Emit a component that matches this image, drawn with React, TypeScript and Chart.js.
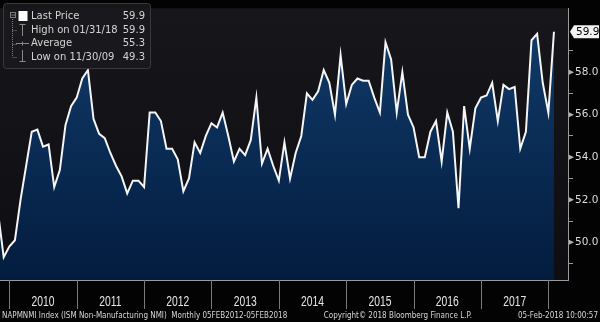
import React, { useEffect, useRef } from "react";
import { Chart, registerables } from "chart.js";
Chart.register(...registerables);

// ---- data ----
const firstYear = 2009;
const firstMonth = 10; // October 2009
const values: number[] = [
  51.4, 49.3, 49.8,
  50.1, 52.0, 53.6, 55.2, 55.3, 54.5, 54.6, 52.6, 53.4, 55.5, 56.4, 56.8,
  57.7, 58.1, 55.8, 55.1, 54.9, 54.2, 53.6, 53.1, 52.3, 52.9, 52.9, 52.6,
  56.1, 56.1, 55.7, 54.4, 54.4, 53.9, 52.4, 53.0, 54.7, 54.2, 55.0, 55.6,
  55.4, 56.1, 55.0, 53.8, 54.4, 54.1, 54.8, 56.8, 53.7, 54.4, 53.6, 52.9,
  54.7, 53.0, 54.2, 55.0, 57.0, 56.7, 57.1, 58.1, 57.5, 56.0, 58.8, 56.5,
  57.4, 57.7, 57.6, 57.6, 56.8, 56.1, 59.4, 58.6, 56.1, 58.0, 56.0, 55.4,
  54.0, 54.0, 55.2, 55.7, 53.8, 56.1, 55.2, 51.6, 56.4, 54.4, 56.3, 56.8,
  56.9, 57.5, 55.7, 57.4, 57.2, 57.3, 54.4, 55.2, 59.5, 59.8, 57.5, 56.1,
  59.9,
];
const monthLabels: string[] = values.map((_, i) => {
  const m = firstMonth - 1 + i;
  const y = firstYear + Math.floor(m / 12);
  return `${y}-${String((m % 12) + 1).padStart(2, "0")}`;
});
const yearLabels = ["2010", "2011", "2012", "2013", "2014", "2015", "2016", "2017"];
const yearBoundaries = [2010, 2011, 2012, 2013, 2014, 2015, 2016, 2017, 2018];
const yTicks = [49, 50, 51, 52, 53, 54, 55, 56, 57, 58, 59];
const legendLabels = ["Last Price", "High on 01/31/18", "Average", "Low on 11/30/09"];
const legendValues = ["59.9", "59.9", "55.3", "49.3"];
const lastValueLabel = "59.9";
const footerLeft = "NAPMNMI Index (ISM Non-Manufacturing NMI)  Monthly 05FEB2012-05FEB2018";
const footerMid = "Copyright\u00A9 2018 Bloomberg Finance L.P.";
const footerRight = "05-Feb-2018 10:00:57";

// month-end position: months since 1 Jan 2010
const monthPos = (label: string) => {
  const [y, m] = label.split("-").map(Number);
  return (y - 2010) * 12 + m;
};

function drawScaled(
  ctx: CanvasRenderingContext2D,
  text: string,
  x: number,
  y: number,
  font: string,
  color: string,
  sx: number,
  align: "left" | "right" | "center"
) {
  ctx.save();
  ctx.font = font;
  ctx.fillStyle = color;
  ctx.textBaseline = "middle";
  ctx.textAlign = "left";
  const w = ctx.measureText(text).width * sx;
  const left = align === "left" ? x : align === "right" ? x - w : x - w / 2;
  ctx.translate(left, y);
  ctx.scale(sx, 1);
  ctx.fillText(text, 0, 0);
  ctx.restore();
}

const decorPlugin = {
  id: "decor",
  beforeDraw(chart: any) {
    const { ctx, chartArea: ca, width, height } = chart;
    ctx.save();
    ctx.fillStyle = "#030304";
    ctx.fillRect(0, 0, width, height);
    const g = ctx.createLinearGradient(0, ca.top, 0, ca.bottom);
    g.addColorStop(0, "#17171b");
    g.addColorStop(1, "#0e0e12");
    ctx.fillStyle = g;
    ctx.fillRect(ca.left, ca.top, ca.right - ca.left, ca.bottom - ca.top);
    ctx.restore();
  },
  afterDraw(chart: any) {
    const { ctx, chartArea: ca } = chart;
    const xs = chart.scales.x;
    const ys = chart.scales.y;
    ctx.save();
    // bottom axis line
    ctx.strokeStyle = "#9a9a9a";
    ctx.lineWidth = 1;
    ctx.beginPath();
    ctx.moveTo(ca.left, Math.round(ca.bottom) + 0.5);
    ctx.lineTo(ca.right, Math.round(ca.bottom) + 0.5);
    ctx.stroke();
    // major tick pointers on the right axis
    ctx.fillStyle = "#b0b0b0";
    yTicks.filter((v) => v % 2 === 0).forEach((v) => {
      const py = ys.getPixelForValue(v);
      ctx.beginPath();
      ctx.moveTo(ca.right + 1, py - 2.5);
      ctx.lineTo(ca.right + 6, py);
      ctx.lineTo(ca.right + 1, py + 2.5);
      ctx.closePath();
      ctx.fill();
    });
    // year separators
    ctx.strokeStyle = "#7a7a7a";
    const sepX = yearBoundaries.map((yr) => xs.getPixelForValue((yr - 2010) * 12));
    sepX.forEach((px) => {
      ctx.beginPath();
      ctx.moveTo(Math.round(px) + 0.5, ca.bottom);
      ctx.lineTo(Math.round(px) + 0.5, ca.bottom + 29);
      ctx.stroke();
    });
    // year labels
    ctx.font = "14px 'Liberation Sans'";
    const ysx = 23 / ctx.measureText("2010").width;
    yearLabels.forEach((lab, i) => {
      const cx = (sepX[i] + sepX[i + 1]) / 2;
      drawScaled(ctx, lab, cx, ca.bottom + 22, "14px 'Liberation Sans'", "#e6e6e6", ysx, "center");
    });
    // footer
    const ff = "9px 'DejaVu Sans'";
    ctx.font = ff;
    const fsx = 80 / ctx.measureText(footerRight).width;
    drawScaled(ctx, footerLeft, 2, 316, ff, "#d8d8d8", fsx, "left");
    drawScaled(ctx, footerMid, 472, 316, ff, "#d8d8d8", fsx, "right");
    drawScaled(ctx, footerRight, 598, 316, ff, "#d8d8d8", fsx, "right");

    // last price tag
    const ly = ys.getPixelForValue(values[values.length - 1]);
    ctx.fillStyle = "#f2f2f2";
    ctx.beginPath();
    ctx.moveTo(ca.right + 2, ly);
    ctx.lineTo(ca.right + 6, ly - 6.5);
    ctx.lineTo(599, ly - 6.5);
    ctx.lineTo(599, ly + 6.5);
    ctx.lineTo(ca.right + 6, ly + 6.5);
    ctx.closePath();
    ctx.fill();
    ctx.fillStyle = "#000";
    ctx.font = "10.5px 'DejaVu Sans'";
    ctx.textBaseline = "middle";
    ctx.textAlign = "left";
    ctx.fillText(lastValueLabel, ca.right + 8, ly + 0.5);

    // legend box
    const bx = 3.5, by = 3.5, bw = 147, bh = 65;
    ctx.fillStyle = "rgba(26,26,30,0.86)";
    ctx.strokeStyle = "rgba(60,60,66,0.9)";
    ctx.beginPath();
    (ctx as any).roundRect(bx, by, bw, bh, 3);
    ctx.fill();
    ctx.stroke();
    const rowY = [16.5, 30, 43.5, 57];
    // tree lines
    ctx.strokeStyle = "#7c7c7c";
    ctx.lineWidth = 1;
    ctx.setLineDash([1, 1]);
    ctx.beginPath();
    ctx.moveTo(12.5, 19);
    ctx.lineTo(12.5, rowY[3]);
    for (let i = 1; i < 4; i++) {
      ctx.moveTo(12.5, Math.round(rowY[i]) + 0.5);
      ctx.lineTo(17, Math.round(rowY[i]) + 0.5);
    }
    ctx.stroke();
    ctx.setLineDash([]);
    // collapse box
    ctx.strokeRect(10.5, 12.5, 5, 5);
    ctx.beginPath();
    ctx.moveTo(11.5, 15);
    ctx.lineTo(15, 15);
    ctx.stroke();
    // white square
    ctx.fillStyle = "#ffffff";
    ctx.fillRect(18.5, 11, 9, 10);
    // high icon
    ctx.strokeStyle = "#8a8a8a";
    ctx.beginPath();
    ctx.moveTo(19.5, 24.5);
    ctx.lineTo(25.5, 24.5);
    ctx.moveTo(22.5, 24.5);
    ctx.lineTo(22.5, 36);
    // average icon
    ctx.moveTo(16, 43.5);
    ctx.lineTo(29, 43.5);
    ctx.moveTo(22.5, 41.5);
    ctx.lineTo(22.5, 45.5);
    // low icon
    ctx.moveTo(22.5, 50);
    ctx.lineTo(22.5, 61.5);
    ctx.moveTo(19.5, 61.5);
    ctx.lineTo(25.5, 61.5);
    ctx.stroke();
    // texts
    ctx.font = "10px 'DejaVu Sans'";
    ctx.fillStyle = "#d4d4d4";
    ctx.textBaseline = "middle";
    legendLabels.forEach((lab, i) => {
      ctx.textAlign = "left";
      ctx.fillText(lab, 31, rowY[i]);
      ctx.textAlign = "right";
      ctx.fillText(legendValues[i], 145, rowY[i]);
    });
    ctx.restore();
  },
};

export default function App() {
  const ref = useRef<HTMLCanvasElement | null>(null);
  useEffect(() => {
    document.body.style.margin = "0";
    document.body.style.background = "#000";
    const canvas = ref.current!;
    const chart = new Chart(canvas, {
      type: "line",
      data: {
        datasets: [
          {
            data: monthLabels.map((m, i) => ({ x: monthPos(m), y: values[i] })),
            borderColor: "#f5f5f5",
            borderWidth: 2,
            pointRadius: 0,
            tension: 0,
            fill: "start",
            backgroundColor: (c: any) => {
              const ca = c.chart.chartArea;
              if (!ca) return "#0a2a50";
              const g = c.chart.ctx.createLinearGradient(0, ca.top, 0, ca.bottom);
              g.addColorStop(0, "#123d6c");
              g.addColorStop(0.5, "#0a2c55");
              g.addColorStop(1, "#031c3e");
              return g;
            },
          },
        ],
      },
      options: {
        responsive: false,
        devicePixelRatio: 1,
        animation: false,
        layout: { padding: { left: 0, right: 0, top: 0, bottom: 42 } },
        plugins: { legend: { display: false }, tooltip: { enabled: false } },
        scales: {
          x: { type: "linear", min: -1.656, max: 99.5, display: false },
          y: {
            type: "linear",
            position: "right",
            min: 48.23,
            max: 61.0,
            afterFit: (s: any) => {
              s.width = 32;
            },
            afterBuildTicks: (s: any) => {
              s.ticks = yTicks.map((v) => ({ value: v }));
            },
            ticks: {
              autoSkip: false,
              color: "#dcdcdc",
              font: { family: "DejaVu Sans", size: 10.5 },
              padding: 2,
              callback: (v: any) => (Number(v) % 2 === 0 ? Number(v).toFixed(1) : ""),
            },
            grid: { drawOnChartArea: false, drawTicks: true, tickLength: 5, color: "#9a9a9a" },
            border: { display: true, color: "#9a9a9a" },
          },
        },
      },
      plugins: [decorPlugin],
    } as any);
    return () => chart.destroy();
  }, []);
  return <canvas ref={ref} width={600} height={322} style={{ display: "block" }} />;
}
